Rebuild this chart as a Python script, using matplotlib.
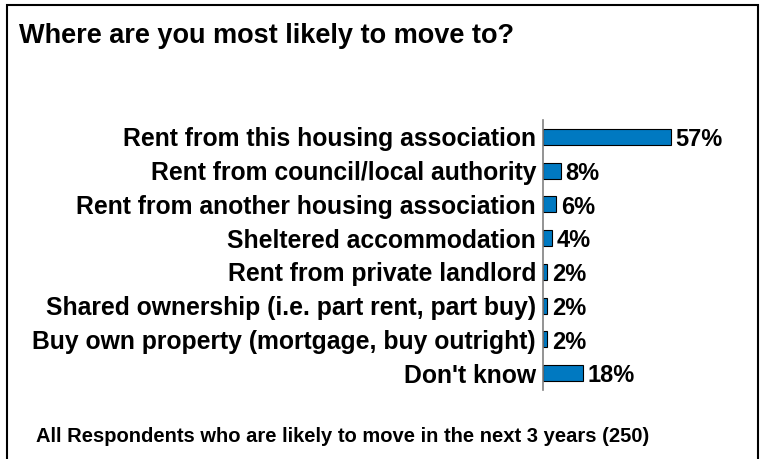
import matplotlib
matplotlib.use("Agg")
import matplotlib.pyplot as plt
from matplotlib.patches import Rectangle

categories = [
    "Rent from this housing association",
    "Rent from council/local authority",
    "Rent from another housing association",
    "Sheltered accommodation",
    "Rent from private landlord",
    "Shared ownership (i.e. part rent, part buy)",
    "Buy own property (mortgage, buy outright)",
    "Don't know",
]
values = [57, 8, 6, 4, 2, 2, 2, 18]

title = "Where are you most likely to move to?"
footnote = "All Respondents who are likely to move in the next 3 years (250)"

plt.rcParams["font.family"] = ["Liberation Sans", "DejaVu Sans"]

W, H = 760, 459
fig = plt.figure(figsize=(W / 100, H / 100), dpi=100)
fig.patch.set_facecolor("white")

# outer frame
fig.patches.append(Rectangle((6.5 / W, -0.02), 751 / W, 1 - 4.5 / H + 0.02,
                             transform=fig.transFigure, fill=False,
                             edgecolor="black", linewidth=1.5))

ax = fig.add_axes([543 / W, 1 - 390 / H, 134.4 / W, 270 / H])
y = list(range(len(categories)))
ax.barh(y, values, height=0.47, color="#0079C1", edgecolor="black", linewidth=0.8)
ax.set_xlim(0, 60)
ax.set_ylim(len(categories) - 0.5, -0.5)

for s in ["top", "right", "bottom"]:
    ax.spines[s].set_visible(False)
ax.spines["left"].set_color("#808080")
ax.spines["left"].set_linewidth(1.2)
ax.set_xticks([])
ax.set_yticks(y)
ax.set_yticklabels(categories, fontsize=17.8, fontweight="bold")
ax.tick_params(axis="y", length=0, pad=5)

for yi, v in zip(y, values):
    ax.text(v + 1.9, yi + 0.08, f"{v}%", va="center", ha="left",
            fontsize=17, fontweight="bold")

fig.text(19 / W, 1 - 36 / H, title, fontsize=19.5, fontweight="bold",
         ha="left", va="center")
fig.text(36 / W, 1 - 437 / H, footnote, fontsize=14.5, fontweight="bold",
         ha="left", va="center")

fig.savefig("out.png", dpi=100, facecolor="white")
